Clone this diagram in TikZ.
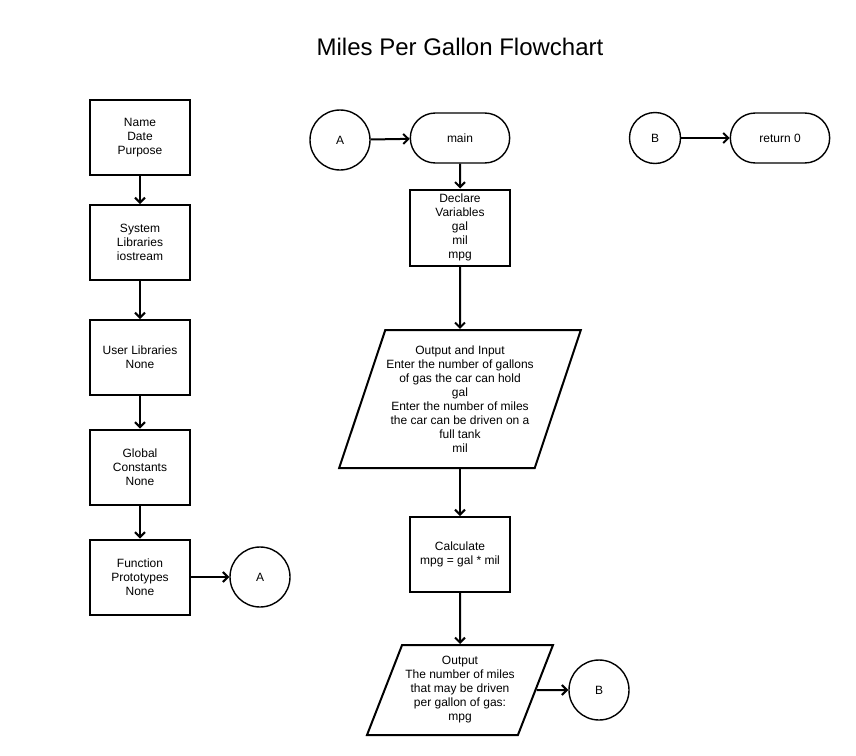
\documentclass[tikz,border=0pt]{standalone}
\usepackage{fontspec}
\setmainfont{Liberation Sans}
\usetikzlibrary{shapes.geometric,shapes.misc,arrows.meta,positioning}

\begin{document}
\begin{tikzpicture}[x=1pt, y=-1pt,
    font=\fontsize{12}{14}\selectfont,
    stepbox/.style={rectangle, draw, line width=2pt, minimum width=100pt,
      minimum height=75pt, inner sep=2pt, align=center},
    term/.style={rounded rectangle, draw, line width=1.4pt, minimum width=106pt,
      minimum height=50pt, align=center},
    conn/.style={circle, draw, line width=1.4pt, minimum size=#1, inner sep=0pt},
    conn/.default=60pt,
    io/.style={trapezium, trapezium stretches body, draw, line width=2pt,
      align=center, inner sep=1pt},
    >={Straight Barb[length=5pt,width=10pt]}, every path/.style={line width=2pt}]
  \useasboundingbox (0,0) rectangle (856,755);
  \node[font=\fontsize{24}{28}\selectfont] (title) at (460,47) {Miles Per Gallon Flowchart};

  % left column
  \node[stepbox] (header) at (140,137.5) {Name\\Date\\Purpose};
  \node[stepbox] (syslib) at (140,242.5) {System\\Libraries\\iostream};
  \node[stepbox] (userlib) at (140,357.5) {User Libraries\\None};
  \node[stepbox] (globals) at (140,467) {Global\\Constants\\None};
  \node[stepbox] (protos) at (140,577) {Function\\Prototypes\\None};
  \node[conn] (toA) at (260,577) {A};

  \draw[->] (header) -- (syslib);
  \draw[->] (syslib) -- (userlib);
  \draw[->] (userlib) -- (globals);
  \draw[->] (globals) -- (protos);
  \draw[->] (protos) -- (toA);

  % main
  \node[conn] (fromA) at (340,140) {A};
  \node[term] (main) at (460,138) {main};
  \node[stepbox, minimum height=76pt] (declare) at (460,227.5) {Declare\\Variables\\gal\\mil\\mpg};
  \node[io, trapezium left angle=67, trapezium right angle=113,
    minimum height=138pt, minimum width=241pt] (input) at (460,399)
    {Output and Input\\Enter the number of gallons\\of gas the car can hold\\gal\\
     Enter the number of miles\\the car can be driven on a\\full tank\\mil};
  \node[stepbox] (calc) at (460,554.5) {Calculate\\mpg = gal * mil};
  \node[io, trapezium left angle=63, trapezium right angle=117,
    minimum height=90pt, minimum width=186pt] (output) at (460,690)
    {Output\\The number of miles\\that may be driven\\per gallon of gas:\\mpg};
  \node[conn] (toB) at (599,690) {B};

  \draw[->] (fromA) -- (main);
  \draw[->] (main) -- (declare);
  \draw[->] (declare) -- (input);
  \draw[->] (input) -- (calc);
  \draw[->] (calc) -- (output);
  \draw[->] (output.east) -- (toB);

  % end
  \node[conn=51pt] (fromB) at (655,138) {B};
  \node[term] (ret) at (780,138) {return 0};
  \draw[->] (fromB) -- (ret);
\end{tikzpicture}
\end{document}
